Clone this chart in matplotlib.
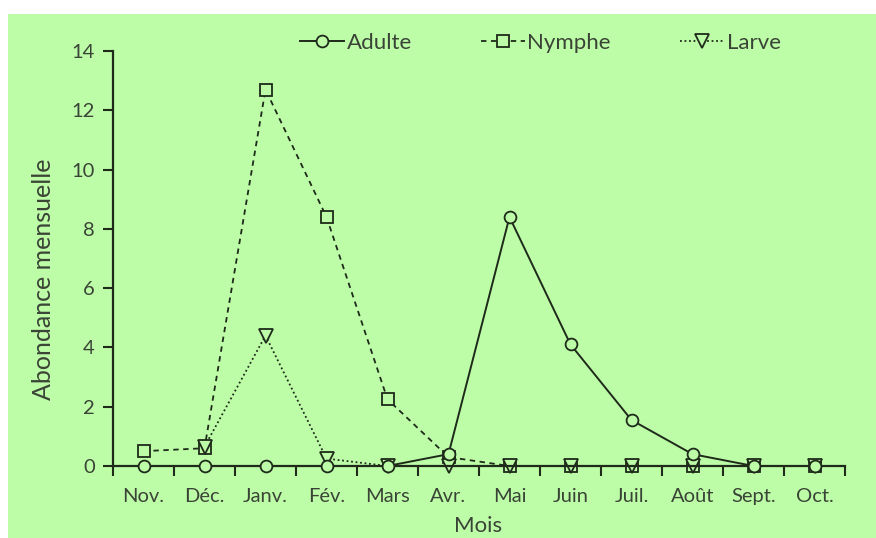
import matplotlib.pyplot as plt
import numpy as np
from matplotlib.patches import Rectangle

# Data
months = ['Nov.', 'Déc.', 'Janv.', 'Fév.', 'Mars', 'Avr.', 'Mai', 'Juin',
          'Juil.', 'Août', 'Sept.', 'Oct.']
adulte = [0, 0, 0, 0, 0, 0.4, 8.4, 4.1, 1.55, 0.4, 0, 0]
nymphe = [0.5, 0.6, 12.7, 8.4, 2.25, 0.3, 0, 0, 0, 0, 0, 0]
larve = [np.nan, 0.65, 4.4, 0.25, 0, 0, 0, 0, 0, 0, 0, 0]
yticks = [0, 2, 4, 6, 8, 10, 12, 14]

green = '#befda8'
ink = '#1e2a1a'
txt = '#3a4436'

plt.rcParams['font.family'] = ['Lato', 'DejaVu Sans']

fig = plt.figure(figsize=(8.76, 5.38), dpi=100, facecolor='white')
fig.patches.append(Rectangle((8 / 876, 0), 1, 1 - 14 / 538, transform=fig.transFigure,
                             facecolor=green, edgecolor='none', zorder=-10))

ax = fig.add_axes([113 / 876, 1 - 466 / 538, (845 - 113) / 876, (466 - 51) / 538])
ax.set_facecolor(green)

x = np.arange(len(months))
ax.plot(x, adulte, color=ink, lw=1.4, ls='-', marker='o', ms=8.5,
        mfc=green, mec=ink, mew=1.3, label='Adulte', zorder=3, clip_on=False)
ax.plot(x, nymphe, color=ink, lw=1.3, ls=(0, (3, 2.5)), marker='s', ms=8,
        mfc=green, mec=ink, mew=1.3, label='Nymphe', zorder=2, clip_on=False)
ax.plot(x, larve, color=ink, lw=1.3, ls=(0, (1, 1.5)), marker='v', ms=10,
        mfc=green, mec=ink, mew=1.3, label='Larve', zorder=2, clip_on=False)

ax.set_xlim(-0.5, 11.5)
ax.set_ylim(0, 14)
ax.set_yticks(yticks)
ax.set_xticks(x)
ax.set_xticklabels(months)
ax.set_xticks(np.arange(-0.5, 12, 1), minor=True)
ax.tick_params(axis='x', which='major', length=0, pad=16, labelsize=14.5, labelcolor=txt)
ax.tick_params(axis='x', which='minor', length=7, width=1.5, color=ink, direction='out')
ax.tick_params(axis='y', length=7, width=1.5, color=ink, pad=6, labelsize=14.5, labelcolor=txt)

for s in ['top', 'right']:
    ax.spines[s].set_visible(False)
for s in ['left', 'bottom']:
    ax.spines[s].set_linewidth(1.6)
    ax.spines[s].set_color(ink)

ax.set_xlabel('Mois', fontsize=16, color=txt)
ax.xaxis.set_label_coords((478 - 113) / 732, (466 - 526) / 415)
ax.xaxis.label.set_va('center')
ax.set_ylabel('Abondance mensuelle', fontsize=18, color=txt)
ax.yaxis.set_label_coords((44 - 113) / 732, (466 - 279) / 415)
ax.yaxis.label.set_va('center')

fig.legend(loc='center left', bbox_to_anchor=(300 / 876, 1 - 43 / 538), ncol=3, frameon=False,
           fontsize=16, handlelength=2.0, columnspacing=3.1, handletextpad=0.1,
           labelcolor=txt, borderpad=0, borderaxespad=0)

plt.savefig('out.png', dpi=100, facecolor='white')
